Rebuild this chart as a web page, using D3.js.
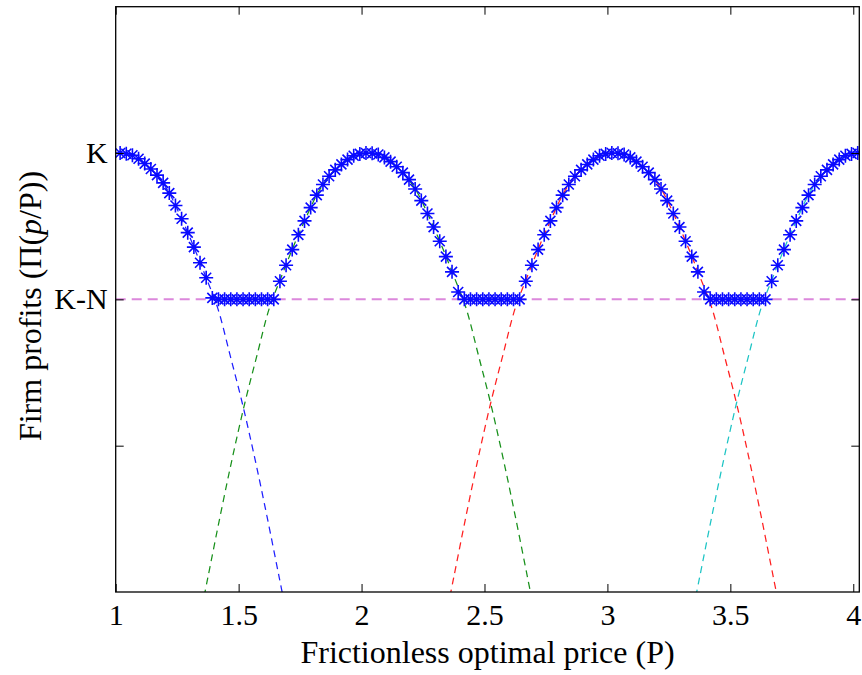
<!DOCTYPE html>
<html>
<head>
<meta charset="utf-8">
<script src="https://cdn.jsdelivr.net/npm/d3@7"></script>
<style>
  html, body { margin: 0; padding: 0; background: #ffffff; }
  svg { display: block; }
</style>
</head>
<body>
<div id="chart"></div>
<script>
// Tick values and labels
const xTicks = [1, 1.5, 2, 2.5, 3, 3.5, 4];
const xTickLabels = ["1", "1.5", "2", "2.5", "3", "3.5", "4"];
const yTicks = [1, 2, 3];
const yTickLabels = ["", "K-N", "K"];

// Profit level after paying the menu cost (K-N)
const resetLevel = 2;

// Profit curves Π(p/P) for each fixed nominal price, as [P, profit]
const curveBlue = [[1.000,2.999],[1.015,3.000],[1.065,2.987],[1.115,2.932],[1.165,2.855],[1.215,2.735],[1.265,2.562],[1.315,2.370],[1.365,2.160],[1.415,1.940],[1.465,1.620],[1.515,1.290],[1.565,0.920],[1.615,0.520],[1.665,0.100],[1.690,-0.110]];
const curveGreen = [[1.350,-0.110],[1.375,0.100],[1.425,0.520],[1.475,0.920],[1.525,1.290],[1.575,1.620],[1.625,1.940],[1.675,2.160],[1.725,2.370],[1.775,2.562],[1.825,2.735],[1.875,2.855],[1.925,2.932],[1.975,2.987],[2.025,3.000],[2.075,2.987],[2.125,2.932],[2.175,2.855],[2.225,2.735],[2.275,2.562],[2.325,2.370],[2.375,2.160],[2.425,1.940],[2.475,1.620],[2.525,1.290],[2.575,0.920],[2.625,0.520],[2.675,0.100],[2.700,-0.110]];
const curveRed = [[2.350,-0.110],[2.375,0.100],[2.425,0.520],[2.475,0.920],[2.525,1.290],[2.575,1.620],[2.625,1.940],[2.675,2.160],[2.725,2.370],[2.775,2.562],[2.825,2.735],[2.875,2.855],[2.925,2.932],[2.975,2.987],[3.025,3.000],[3.075,2.987],[3.125,2.932],[3.175,2.855],[3.225,2.735],[3.275,2.562],[3.325,2.370],[3.375,2.160],[3.425,1.940],[3.475,1.620],[3.525,1.290],[3.575,0.920],[3.625,0.520],[3.675,0.100],[3.700,-0.110]];
const curveCyan = [[3.350,-0.110],[3.375,0.100],[3.425,0.520],[3.475,0.920],[3.525,1.290],[3.575,1.620],[3.625,1.940],[3.675,2.160],[3.725,2.370],[3.775,2.562],[3.825,2.735],[3.875,2.855],[3.925,2.932],[3.975,2.987],[4.025,3.000],[4.045,2.998]];

// Realised profit with optimal resetting, sampled on a regular P grid
const starStart = 1.018;
const starStep = 0.025;
const starProfit = [
  3.000, 2.995, 2.985, 2.961, 2.928, 2.891, 2.849, 2.796, 2.726, 2.641, 2.551, 2.456, 2.357, 2.250, 2.148, 2.010,
  2, 2, 2, 2, 2, 2, 2, 2, 2, 2,
  2.124, 2.233, 2.340, 2.441, 2.536, 2.627, 2.712, 2.785, 2.841, 2.885, 2.922, 2.955, 2.981, 2.994, 3.000,
  2.998, 2.990, 2.970, 2.941, 2.906, 2.866, 2.818, 2.754, 2.675, 2.587, 2.494, 2.397, 2.292, 2.188, 2.050,
  2, 2, 2, 2, 2, 2, 2, 2, 2, 2,
  2.124, 2.233, 2.340, 2.441, 2.536, 2.627, 2.712, 2.785, 2.841, 2.885, 2.922, 2.955, 2.981, 2.994, 3.000,
  2.998, 2.990, 2.970, 2.941, 2.906, 2.866, 2.818, 2.754, 2.675, 2.587, 2.494, 2.397, 2.292, 2.188, 2.050,
  2, 2, 2, 2, 2, 2, 2, 2, 2, 2,
  2.124, 2.233, 2.340, 2.441, 2.536, 2.627, 2.712, 2.785, 2.841, 2.885, 2.922, 2.955, 2.981, 2.994, 3.000
];

const W = 862, H = 675;
const plot = { left: 115.7, right: 859.3, top: 6.7, bottom: 592 };
const fontFamily = "'Times New Roman', 'Liberation Serif', serif";

const svg = d3.select("#chart").append("svg")
  .attr("width", W).attr("height", H)
  .style("background", "#ffffff");

const x = d3.scaleLinear().domain([1, 4.0245]).range([plot.left, plot.right]);
const y = d3.scaleLinear().domain([0, 4]).range([plot.bottom, plot.top]);

svg.append("defs").append("clipPath").attr("id", "plot-clip")
  .append("rect")
  .attr("x", plot.left).attr("y", plot.top)
  .attr("width", plot.right - plot.left).attr("height", plot.bottom - plot.top);

const body = svg.append("g").attr("clip-path", "url(#plot-clip)");

// Dashed profit curves
const line = d3.line()
  .x(d => x(d[0])).y(d => y(d[1]))
  .curve(d3.curveCatmullRom.alpha(0.5));

const curves = [
  { data: curveBlue, color: "#1f1fff" },
  { data: curveGreen, color: "#17901a" },
  { data: curveRed, color: "#ff2020" },
  { data: curveCyan, color: "#1cc4c4" }
];
body.selectAll("path.curve").data(curves).join("path")
  .attr("class", "curve")
  .attr("d", d => line(d.data))
  .attr("fill", "none")
  .attr("stroke", d => d.color)
  .attr("stroke-width", 1.25)
  .attr("stroke-dasharray", "7,5");

// K-N reference line
body.append("line")
  .attr("x1", x(1)).attr("x2", x(4.0245))
  .attr("y1", y(resetLevel)).attr("y2", y(resetLevel))
  .attr("stroke", "#dc88dc")
  .attr("stroke-width", 2)
  .attr("stroke-dasharray", "10,6");

// Asterisk markers
const stars = starProfit.map((v, i) => [starStart + i * starStep, v]);
const r = 7, a = 5;
const starPath = d => {
  const cx = x(d[0]), cy = y(d[1]);
  return `M${cx - r},${cy}L${cx + r},${cy}M${cx},${cy - r}L${cx},${cy + r}` +
         `M${cx - a},${cy - a}L${cx + a},${cy + a}M${cx - a},${cy + a}L${cx + a},${cy - a}`;
};
body.selectAll("path.star").data(stars).join("path")
  .attr("class", "star")
  .attr("d", starPath)
  .attr("fill", "none")
  .attr("stroke", "#0a0aff")
  .attr("stroke-width", 1.6);

// Axes: ticks point inward on all four sides
const styleAxis = g => {
  g.select(".domain").remove();
  g.selectAll(".tick line").attr("stroke", "#000").attr("stroke-width", 1);
  g.selectAll("text")
    .attr("fill", "#000")
    .style("font-family", fontFamily)
    .style("font-size", "30px");
};

svg.append("g")
  .attr("transform", `translate(0,${plot.bottom})`)
  .call(d3.axisBottom(x).tickValues(xTicks)
    .tickFormat((d, i) => xTickLabels[i])
    .tickSizeInner(-8).tickSizeOuter(0).tickPadding(12))
  .call(styleAxis);

svg.append("g")
  .attr("transform", `translate(0,${plot.top})`)
  .call(d3.axisTop(x).tickValues(xTicks).tickFormat(() => "")
    .tickSizeInner(-8).tickSizeOuter(0))
  .call(styleAxis);

svg.append("g")
  .attr("transform", `translate(${plot.left},0)`)
  .call(d3.axisLeft(y).tickValues(yTicks)
    .tickFormat((d, i) => yTickLabels[i])
    .tickSizeInner(-8).tickSizeOuter(0).tickPadding(8))
  .call(styleAxis);

svg.append("g")
  .attr("transform", `translate(${plot.right},0)`)
  .call(d3.axisRight(y).tickValues(yTicks).tickFormat(() => "")
    .tickSizeInner(-8).tickSizeOuter(0))
  .call(styleAxis);

// Axes box
svg.append("rect")
  .attr("x", plot.left).attr("y", plot.top)
  .attr("width", plot.right - plot.left).attr("height", plot.bottom - plot.top)
  .attr("fill", "none").attr("stroke", "#000").attr("stroke-width", 1.3);

// Axis titles
svg.append("text")
  .attr("x", (plot.left + plot.right) / 2).attr("y", 663)
  .attr("text-anchor", "middle")
  .style("font-family", fontFamily).style("font-size", "32px")
  .attr("fill", "#000")
  .text("Frictionless optimal price (P)");

const yTitle = svg.append("text")
  .attr("transform", `translate(41,306) rotate(-90)`)
  .attr("text-anchor", "middle")
  .style("font-family", fontFamily).style("font-size", "32px")
  .attr("fill", "#000");
yTitle.append("tspan").text("Firm profits (\u03A0(");
yTitle.append("tspan").style("font-style", "italic").text("p");
yTitle.append("tspan").text("/P))");
</script>
</body>
</html>
